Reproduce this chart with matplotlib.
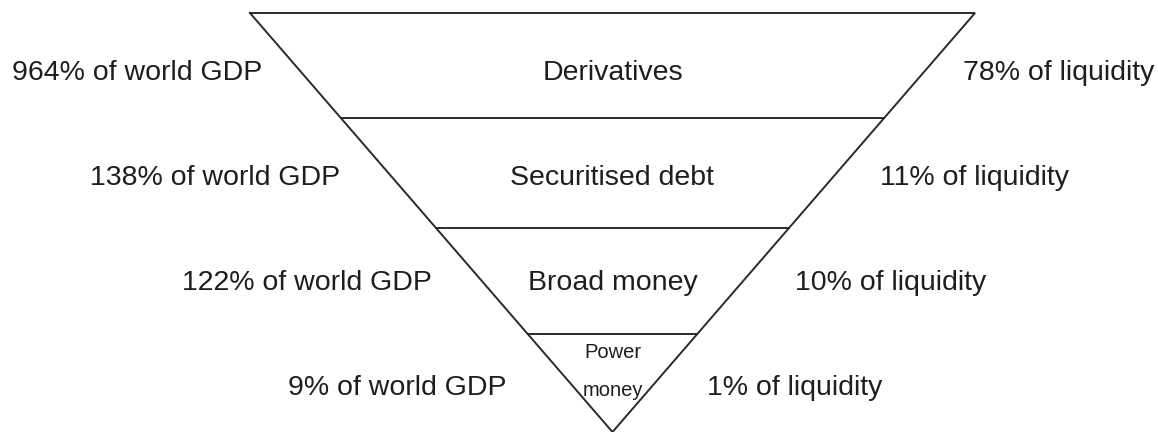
import matplotlib
matplotlib.use('Agg')
import matplotlib.pyplot as plt

# layers of the liquidity pyramid, top to bottom
layers = ['Derivatives', 'Securitised debt', 'Broad money', 'Power\nmoney']
gdp_share = ['964% of world GDP', '138% of world GDP', '122% of world GDP', '9% of world GDP']
liquidity_share = ['78% of liquidity', '11% of liquidity', '10% of liquidity', '1% of liquidity']

# geometry in pixel space
top_y, tip_y = 13, 432
left_x, right_x, tip_x = 250, 975, 612.5
cuts = [118, 228, 334]
label_y = [73, 178, 283, 388]
left_end = [262, 340, 432, 507]
right_start = [963, 880, 795, 707]

plt.rcParams['font.family'] = ['Liberation Sans', 'DejaVu Sans']
col = '#1e1e1e'
line_col = '#2a2a2a'

fig = plt.figure(figsize=(11.58, 4.32), dpi=100)
ax = fig.add_axes([0, 0, 1, 1])
ax.set_xlim(0, 1158)
ax.set_ylim(432, 0)
ax.axis('off')


def edge_x(y):
    t = (y - top_y) / (tip_y - top_y)
    return left_x + (tip_x - left_x) * t, right_x + (tip_x - right_x) * t


ax.plot([left_x, right_x, tip_x, left_x], [top_y, top_y, tip_y, top_y],
        color=line_col, lw=1.4, solid_joinstyle='miter', clip_on=False)
for y in cuts:
    xl, xr = edge_x(y)
    ax.plot([xl, xr], [y, y], color=line_col, lw=1.4)

for i, name in enumerate(layers):
    if i < 3:
        ax.text(tip_x, label_y[i], name, ha='center', va='center', fontsize=20.5, color=col)
    else:
        ax.text(tip_x, 353, 'Power', ha='center', va='center', fontsize=14.5, color=col)
        ax.text(tip_x, 391, 'money', ha='center', va='center', fontsize=14.5, color=col)
    ax.text(left_end[i], label_y[i], gdp_share[i], ha='right', va='center', fontsize=20.5, color=col)
    ax.text(right_start[i], label_y[i], liquidity_share[i], ha='left', va='center', fontsize=20.5, color=col)

fig.savefig('out.png', dpi=100)
